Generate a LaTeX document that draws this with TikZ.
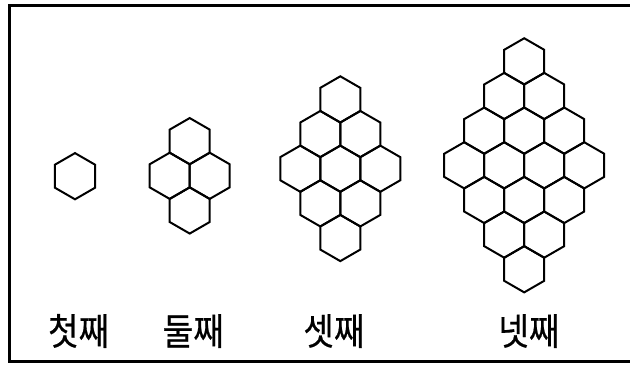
\documentclass[tikz,border=0pt]{standalone}
\usepackage{fontspec}
\newfontfamily\krfont[FakeBold=0.5]{Noto Sans CJK KR}
\begin{document}
\begin{tikzpicture}[x=0.75pt,y=-0.75pt,
  hexline/.style={line width=1.5pt,line join=miter,black},
  framebox/.style={line width=1.9pt,black},
  lbl/.style={font=\krfont\fontsize{25}{25}\selectfont,inner sep=0pt,anchor=center,yscale=1.12,transform shape}]
\useasboundingbox (0,0) rectangle (630,369);
\draw[framebox] (9.7,5.3) rectangle (633,361.7);
\def\R{23.1}
\def\W{40.01}
% figures: n, center x, center y
\foreach \n/\cx/\cy in {1/75/176.2, 2/189.7/175.8, 3/340.3/168.7, 4/524.2/165.3}{
  \pgfmathtruncatemacro{\m}{\n-1}
  \foreach \i in {0,...,\m}{
    \foreach \j in {0,...,\m}{
      \pgfmathsetmacro{\hx}{\cx+(\j-\i)*\W/2}
      \pgfmathsetmacro{\hy}{\cy-\m*1.5*\R+(\i+\j)*1.5*\R}
      \draw[hexline] (\hx,\hy) +(30:\R) -- +(90:\R) -- +(150:\R) -- +(210:\R) -- +(270:\R) -- +(330:\R) -- cycle;
    }
  }
}
\node[lbl] (l1) at (78.7,331) {첫째};
\node[lbl] (l2) at (193.3,331) {둘째};
\node[lbl] (l3) at (334,331) {셋째};
\node[lbl] (l4) at (529,331) {넷째};
\end{tikzpicture}
\end{document}
